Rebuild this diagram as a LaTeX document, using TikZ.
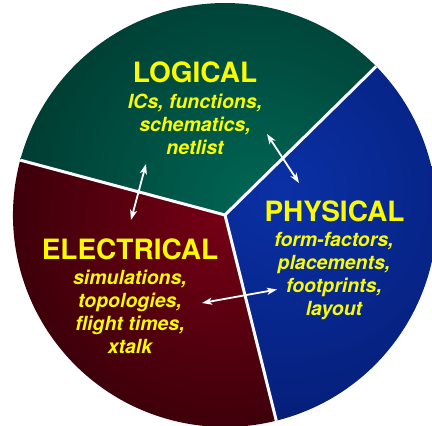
\documentclass[tikz,border=0pt]{standalone}
\usepackage{fontspec}
\setmainfont{TeX Gyre Heros}
\usetikzlibrary{arrows.meta}
\definecolor{ylw}{RGB}{250,250,0}
\pgfdeclareradialshading{logsh}{\pgfpoint{0bp}{0bp}}{rgb(0bp)=(0,0.40,0.33); rgb(35bp)=(0,0.10,0.085); rgb(50bp)=(0,0.10,0.085)}
\pgfdeclareradialshading{elesh}{\pgfpoint{0bp}{0bp}}{rgb(0bp)=(0.46,0,0.08); rgb(35bp)=(0.03,0,0); rgb(50bp)=(0.03,0,0)}
\pgfdeclareradialshading{physh}{\pgfpoint{0bp}{0bp}}{rgb(0bp)=(0.04,0.19,0.65); rgb(35bp)=(0,0.05,0.30); rgb(50bp)=(0,0.05,0.30)}
\tikzset{
  title/.style={anchor=base, inner sep=0pt, text=ylw, font=\bfseries\fontsize{28}{28}\selectfont},
  sub/.style={anchor=base, inner sep=0pt, text=ylw, align=center, font=\bfseries\itshape\fontsize{19.5}{23}\selectfont},
  border/.style={white, line width=3pt},
  link/.style={white, line width=1.8pt, {Stealth[length=10pt,width=7pt,inset=2.5pt]}-{Stealth[length=10pt,width=7pt,inset=2.5pt]}}
}
\begin{document}
\begin{tikzpicture}[x=1pt,y=1pt]
\useasboundingbox (0,0) rectangle (432,426);
\coordinate (C) at (225,211);
% sectors
\begin{scope}
\clip (C) -- ++(44.5:212) arc[start angle=44.5,end angle=165,radius=212] -- cycle;
\shade[shading=logsh] (258,226) circle (321);
\end{scope}
\begin{scope}
\clip (C) -- ++(165:212) arc[start angle=165,end angle=284,radius=212] -- cycle;
\shade[shading=elesh] (224,206) circle (293);
\end{scope}
\begin{scope}
\clip (C) -- ++(284:212) arc[start angle=284,end angle=404.5,radius=212] -- cycle;
\shade[shading=physh] (282,236) circle (331);
\end{scope}
% borders
\draw[border] (C) -- ++(44.5:212);
\draw[border] (C) -- ++(165:212);
\draw[border] (C) -- ++(284:212);
% texts
\node[title] (logt) at (195,343.3) {LOGICAL};
\node[sub] (logs) at (195,271) {ICs, functions,\\schematics,\\netlist};
\node[title] (phyt) at (334.5,204.3) {PHYSICAL};
\node[sub] (phys) at (334,110) {form-factors,\\placements,\\footprints,\\layout};
\node[title] (elet) at (130,166.7) {ELECTRICAL};
\node[sub] (eles) at (130,72) {simulations,\\topologies,\\flight times,\\xtalk};
% arrows
\coordinate (a1) at (146,262);
\coordinate (b1) at (131,206);
\coordinate (a2) at (267,292);
\coordinate (b2) at (299,243);
\coordinate (a3) at (202,123);
\coordinate (b3) at (277,136.5);
\draw[link] (a1) -- (b1);
\draw[link] (a2) -- (b2);
\draw[link] (a3) -- (b3);
\end{tikzpicture}
\end{document}
